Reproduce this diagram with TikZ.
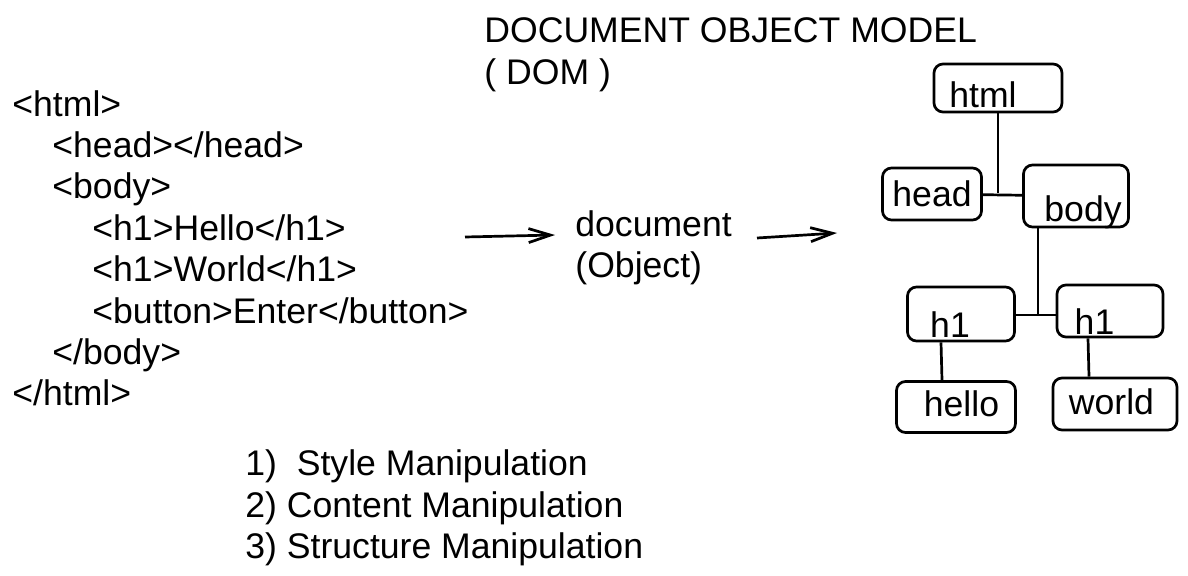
\documentclass[tikz,border=0pt]{standalone}
\usepackage{fontspec}
\setmainfont{Liberation Sans}
\usetikzlibrary{arrows.meta}
\newcommand\nudge[3]{\raisebox{#2}[\height][\depth]{\hspace*{#1}#3\hspace*{-#1}}}
\tikzset{
  txt/.style={anchor=base west, inner sep=0pt, font=\fontsize{17.8pt}{20.6pt}\selectfont},
  dnode/.style={draw, rounded corners=4.5pt, line width=1.35pt, inner sep=0pt,
    font=\fontsize{17.8pt}{20.6pt}\selectfont},
  link/.style={line width=1.35pt},
  flow/.style={line width=1.35pt, -{Straight Barb[length=11pt,width=7pt]}}
}
\begin{document}
\begin{tikzpicture}[x=0.5pt,y=-0.5pt]
  \useasboundingbox (0,0) rectangle (1188,576);
  % title
  \node[txt] (title) at (484,43) {DOCUMENT OBJECT MODEL};
  \node[txt] (dom) at (484,85) {( DOM )};
  % html source
  \node[txt] (s1) at (12,117) {<html>};
  \node[txt] (s2) at (52,158) {<head></head>};
  \node[txt] (s3) at (52,199) {<body>};
  \node[txt] (s4) at (92,241) {<h1>Hello</h1>};
  \node[txt] (s5) at (92,282) {<h1>World</h1>};
  \node[txt] (s6) at (92,324) {<button>Enter</button>};
  \node[txt] (s7) at (52,365) {</body>};
  \node[txt] (s8) at (12,406) {</html>};
  % document object
  \node[txt] (docu) at (575,237) {document};
  \node[txt] (obj) at (575,278) {(Object)};
  \coordinate (a1s) at (465,237);
  \coordinate (a1e) at (555,235);
  \coordinate (a2s) at (757,238);
  \coordinate (a2e) at (837,233);
  \draw[flow] (a1s) -- (a1e);
  \draw[flow] (a2s) -- (a2e);
  % DOM tree
  \node[dnode, minimum width=64pt, minimum height=24pt] (html) at (998,88) {\nudge{-7.5pt}{-3.3pt}{html}};
  \node[dnode, minimum width=49.5pt, minimum height=26pt] (head) at (932,194) {head};
  \node[dnode, minimum width=52.5pt, minimum height=31pt] (body) at (1076,196) {\nudge{3.5pt}{-8pt}{body}};
  \node[dnode, minimum width=53.5pt, minimum height=27pt] (h1a) at (961,314) {\nudge{-5.5pt}{-5.5pt}{h1}};
  \node[dnode, minimum width=53pt, minimum height=26pt] (h1b) at (1110,311) {\nudge{-7.75pt}{-5.5pt}{h1}};
  \node[dnode, minimum width=59.5pt, minimum height=25.5pt] (hello) at (956,407) {\nudge{2.75pt}{1.5pt}{hello}};
  \node[dnode, minimum width=62pt, minimum height=26pt] (world) at (1115,404) {\nudge{-1.75pt}{1pt}{world}};
  \coordinate (fork) at (1038,315);
  \draw[link] (html) -- (html |- 0,193);
  \draw[link] (head) -- (body);
  \draw[link] (body.south -| fork) -- (fork);
  \draw[link] (h1a.east |- fork) -- (h1b.west |- fork);
  \draw[link] ([xshift=-10pt]h1a.south) -- ([xshift=-7pt]hello.north);
  \draw[link] ([xshift=-11pt]h1b.south) -- ([xshift=-13pt]world.north);
  % manipulations
  \node[txt] (m1) at (245,476) {1)\ \ Style Manipulation};
  \node[txt] (m2) at (245,518) {2) Content Manipulation};
  \node[txt] (m3) at (245,559) {3) Structure Manipulation};
\end{tikzpicture}
\end{document}
